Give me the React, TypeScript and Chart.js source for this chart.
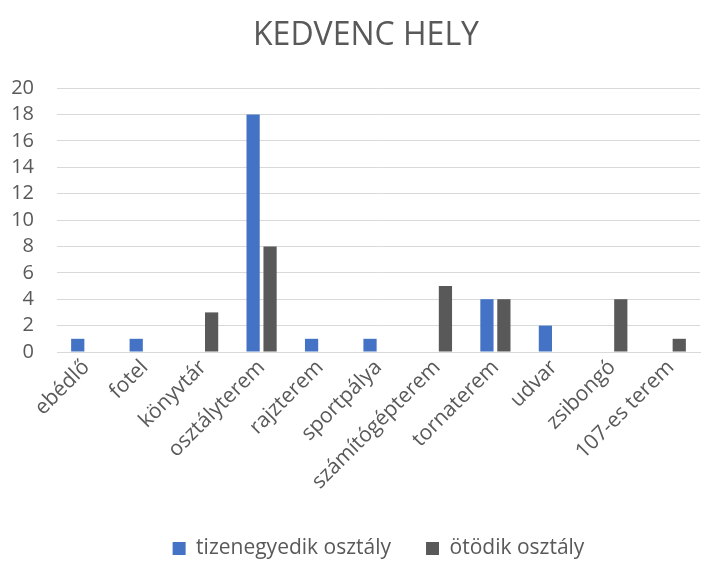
import React, { useEffect, useRef } from "react";
import { Chart, registerables } from "chart.js";

Chart.register(...registerables);

const categories = [
  "ebédlő",
  "fotel",
  "könyvtár",
  "osztályterem",
  "rajzterem",
  "sportpálya",
  "számítógépterem",
  "tornaterem",
  "udvar",
  "zsibongó",
  "107-es terem",
];
const tizenegyedik = [1, 1, 0, 18, 1, 1, 0, 4, 2, 0, 0];
const otodik = [0, 0, 3, 8, 0, 0, 5, 4, 0, 4, 1];
const seriesNames = ["tizenegyedik osztály", "ötödik osztály"];
const titleText = "KEDVENC HELY";

const FONT = "'Open Sans', 'Liberation Sans', sans-serif";
const TEXT = "#595959";

const titlePlugin = {
  id: "customTitle",
  afterDraw(chart: any) {
    const ctx = chart.ctx;
    ctx.save();
    ctx.fillStyle = TEXT;
    ctx.font = `32px ${FONT}`;
    ctx.textAlign = "center";
    ctx.textBaseline = "alphabetic";
    ctx.fillText(titleText, 366, 45);
    ctx.restore();
  },
};

export default function App() {
  const ref = useRef<HTMLCanvasElement>(null);
  useEffect(() => {
    document.body.style.margin = "0";
    const chart = new Chart(ref.current!, {
      type: "bar",
      data: {
        labels: categories,
        datasets: [
          {
            label: seriesNames[0],
            data: tizenegyedik,
            backgroundColor: "#4472C4",
            borderWidth: 0,
            categoryPercentage: 0.58,
            barPercentage: 0.78,
          },
          {
            label: seriesNames[1],
            data: otodik,
            backgroundColor: "#595959",
            borderWidth: 0,
            categoryPercentage: 0.58,
            barPercentage: 0.78,
          },
        ],
      },
      plugins: [titlePlugin],
      options: {
        animation: false,
        responsive: false,
        maintainAspectRatio: false,
        layout: { padding: { left: 8, right: 4, top: 88, bottom: -8 } },
        plugins: {
          title: { display: false },
          legend: {
            position: "bottom",
            fullSize: false,
            labels: {
              color: TEXT,
              font: { family: FONT, size: 21 },
              boxWidth: 13,
              boxHeight: 13,
              padding: 35,
            },
          },
          tooltip: { enabled: false },
        },
        scales: {
          x: {
            grid: { display: false },
            border: { color: "#d9d9d9" },
            afterFit: (scale: any) => {
              scale.height = 151;
              scale.paddingLeft = 0;
              scale.paddingRight = 0;
            },
            ticks: {
              color: TEXT,
              font: { family: FONT, size: 21 },
              maxRotation: 45,
              minRotation: 45,
              autoSkip: false,
              padding: -5,
            },
          },
          y: {
            min: 0,
            max: 20,
            grid: { color: "#d9d9d9", drawTicks: false },
            border: { display: false },
            afterFit: (scale: any) => {
              scale.width = 49;
              scale.paddingTop = 0;
              scale.paddingBottom = 0;
            },
            ticks: {
              stepSize: 2,
              autoSkip: false,
              color: TEXT,
              font: { family: FONT, size: 20 },
              padding: 23,
            },
          },
        },
      },
    });
    return () => chart.destroy();
  }, []);
  return (
    <div style={{ width: 704, height: 561 }}>
      <canvas ref={ref} width={704} height={561} />
    </div>
  );
}
